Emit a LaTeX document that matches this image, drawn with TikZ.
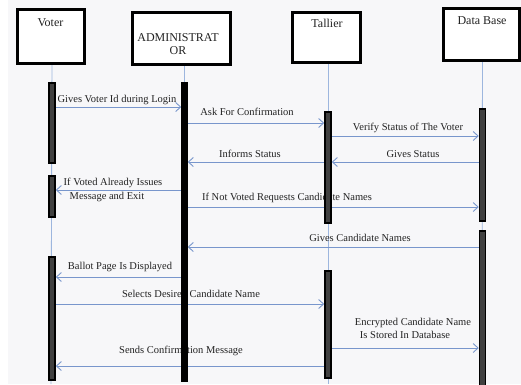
\documentclass[tikz,border=0pt]{standalone}
\usepackage{fontspec}
\setmainfont{Liberation Serif}
\usetikzlibrary{arrows.meta,calc}
\definecolor{msgblue}{HTML}{7896CC}
\definecolor{lifeblue}{HTML}{9DB6DE}
\definecolor{bgray}{HTML}{F7F7F9}
\definecolor{txt}{HTML}{222222}
\pgfdeclarelayer{back}
\pgfsetlayers{back,main}
\tikzset{
  actor/.style={draw=black, line width=3pt, fill=white, inner sep=0pt},
  title/.style={font=\fontsize{12}{13}\selectfont, text=txt, inner sep=0pt, anchor=base},
  actbar/.style={draw=black, line width=1.5pt, fill=black!75, minimum width=6pt, inner sep=0pt},
  adminbar/.style={draw=black, fill=black, minimum width=6pt, inner sep=0pt},
  life/.style={draw=lifeblue, line width=0.9pt},
  msg/.style={draw=msgblue, line width=0.9pt, -{Straight Barb[length=5pt,width=9pt,line width=0.9pt]}},
  lbl/.style={font=\fontsize{10.5}{12}\selectfont, text=txt, inner sep=0pt, anchor=base, align=center}
}
\begin{document}
\begin{tikzpicture}[x=1pt,y=-1pt]
\useasboundingbox (0,0) rectangle (521,384);
\begin{pgfonlayer}{back}
\fill[bgray] (8,0) rectangle (521,384);
\end{pgfonlayer}
% actor boxes
\node[actor, minimum width=67pt, minimum height=54pt] (voter) at (50.5,36) {};
\node[actor, minimum width=98pt, minimum height=52pt] (admin) at (181,38) {};
\node[actor, minimum width=68pt, minimum height=50pt] (tallier) at (326,37) {};
\node[actor, minimum width=76pt, minimum height=52pt] (db) at (481,34) {};
\node[title] (tvoter) at (50.5,26) {Voter};
\node[title] (tadmin1) at (178,41) {ADMINISTRAT};
\node[title] (tadmin2) at (178,54) {OR};
\node[title] (ttallier) at (327,27) {Tallier};
\node[title] (tdb) at (482,24) {Data Base};
% activation bars
\node[actbar, minimum height=80pt] (v1) at (52,123) {};
\node[actbar, minimum height=41pt] (v2) at (52,196.5) {};
\node[actbar, minimum height=123pt] (v3) at (52,318.5) {};
\node[adminbar, minimum height=299pt] (a1) at (184.5,231.5) {};
\node[actbar, minimum height=111pt] (t1) at (328,167.5) {};
\node[actbar, minimum height=107pt] (t2) at (328,324.5) {};
\node[actbar, minimum height=112pt] (d1) at (482.5,165) {};
\node[actbar, minimum height=156pt] (d2) at (482.5,309) {};
% lifeline ends
\coordinate (vend) at (51,384);
\coordinate (tend) at (328,384);
\coordinate (dend) at (482,384);
\begin{pgfonlayer}{back}
\draw[life] (voter.south -| v1.center) -- (vend);
\draw[life] (admin.south -| a1.center) -- (a1.north);
\draw[life] (tallier.south -| t1.center) -- (tend);
\draw[life] (db.south -| d1.center) -- (dend);
% messages
\draw[msg] (v1.east |- 0,107) -- (a1.west |- 0,107);
\node[lbl] (m1) at (117,102) {Gives Voter Id during Login};
\draw[msg] (a1.east |- 0,123) -- (t1.west |- 0,123);
\node[lbl] (m2) at (247,115) {Ask For Confirmation};
\draw[msg] (t1.east |- 0,136) -- (d1.west |- 0,136);
\node[lbl] (m3) at (408,130) {Verify Status of The Voter};
\draw[msg] (d1.west |- 0,162) -- (t1.east |- 0,162);
\node[lbl] (m4) at (413,157) {Gives Status};
\draw[msg] (t1.west |- 0,162) -- (a1.east |- 0,162);
\node[lbl] (m5) at (250,157) {Informs Status};
\draw[msg] (a1.west |- 0,190) -- (v2.east |- 0,190);
\node[lbl] (m6a) at (113,185) {If Voted Already Issues};
\node[lbl] (m6b) at (107,199) {Message and Exit};
\draw[msg] (a1.east |- 0,207) -- (d1.west |- 0,207);
\node[lbl] (m7) at (287,200) {If Not Voted Requests Candidate Names};
\draw[msg] (d2.west |- 0,247) -- (a1.east |- 0,247);
\node[lbl] (m8) at (360,241) {Gives Candidate Names};
\draw[msg] (a1.west |- 0,277) -- (v3.east |- 0,277);
\node[lbl] (m9) at (120,269) {Ballot Page Is Displayed};
\draw[msg] (v3.east |- 0,304) -- (t2.west |- 0,304);
\node[lbl] (m10) at (191,297) {Selects Desired Candidate Name};
\draw[msg] (t2.east |- 0,348) -- (d2.west |- 0,348);
\node[lbl] (m11a) at (413,325) {Encrypted Candidate Name};
\node[lbl] (m11b) at (405,338) {Is Stored In Database};
\draw[msg] (t2.west |- 0,366) -- (v3.east |- 0,366);
\node[lbl] (m12) at (181,353) {Sends Confirmation Message};
\end{pgfonlayer}
\end{tikzpicture}
\end{document}
